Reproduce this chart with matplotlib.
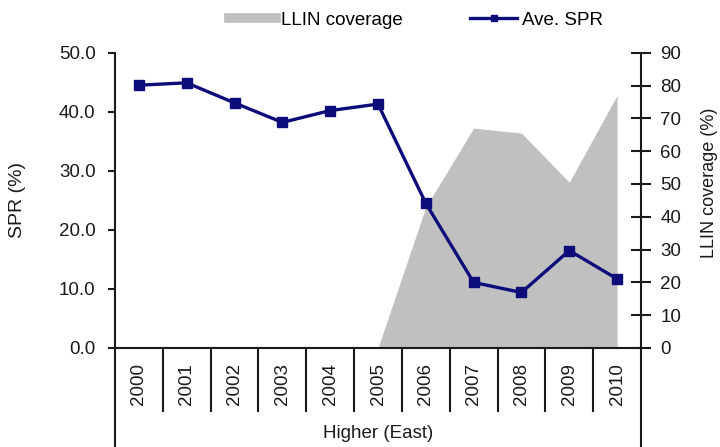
import numpy as np
import matplotlib
matplotlib.use("Agg")
import matplotlib.pyplot as plt
from matplotlib.lines import Line2D

plt.rcParams['font.family'] = ['Liberation Sans', 'DejaVu Sans']

# data
years = ['2000', '2001', '2002', '2003', '2004', '2005',
         '2006', '2007', '2008', '2009', '2010']
spr = [44.5, 44.9, 41.5, 38.2, 40.2, 41.3, 24.5, 11.1, 9.4, 16.5, 11.7]
llin = [np.nan, np.nan, np.nan, np.nan, np.nan, 0, 43, 67, 65.5, 50.5, 77]
group_label = 'Higher (East)'

x = np.arange(len(years))
line_col = '#0c0c7a'
area_col = '#c0c0c0'
spine_col = '#1a1a1a'

fig = plt.figure(figsize=(7.2, 4.47), dpi=100)
ax = fig.add_axes([115 / 720, 1 - 348 / 447, 526 / 720, 295.3 / 447])
ax2 = ax.twinx()

# area on the secondary axis, drawn under the SPR line
ax2.fill_between(x, llin, 0, color=area_col, linewidth=0)
ax2.set_ylim(0, 90)
ax2.set_yticks(np.arange(0, 91, 10))
ax.set_zorder(ax2.get_zorder() + 1)
ax.patch.set_visible(False)

ax.plot(x, spr, color=line_col, linewidth=2.4, marker='s', markersize=6.5,
        markerfacecolor=line_col, markeredgecolor=line_col)
ax.set_ylim(0, 50)
ax.set_yticks(np.arange(0, 51, 10))
ax.set_yticklabels(['%.1f' % v for v in np.arange(0, 51, 10)])
ax.set_xlim(-0.5, len(years) - 0.5)
ax.set_xticks(x)
ax.set_xticklabels(years, rotation=90)

for a in (ax, ax2):
    a.spines['top'].set_visible(False)
    for s in a.spines.values():
        s.set_linewidth(1.5)
        s.set_color(spine_col)
ax2.spines['left'].set_visible(False)
ax2.spines['bottom'].set_visible(False)
ax.spines['right'].set_visible(False)

ax.tick_params(axis='y', direction='out', length=5, width=1.5, pad=9,
               labelsize=13.5, colors=spine_col)
ax.tick_params(axis='x', length=0, pad=11, labelsize=13.5, colors=spine_col)
ax2.tick_params(axis='y', direction='inout', length=14, width=1.5, pad=7,
                labelsize=13.5, colors=spine_col)

# category separators and group border lines below the axis
for b in np.arange(0.5, len(years) - 0.5, 1):
    ax.plot([b, b], [0, -0.212], color=spine_col, linewidth=1.5,
            transform=ax.get_xaxis_transform(), clip_on=False)
for b in (-0.5, len(years) - 0.5):
    ax.plot([b, b], [0, -0.34], color=spine_col, linewidth=1.5,
            transform=ax.get_xaxis_transform(), clip_on=False)

ax.text(0.5, -0.288, group_label, transform=ax.transAxes, ha='center',
        va='center', fontsize=13.5, color=spine_col)

ax.set_ylabel('SPR (%)', fontsize=14, color=spine_col)
ax.yaxis.set_label_coords(-0.169, 0.5)
ax2.set_ylabel('LLIN coverage (%)', fontsize=13, color=spine_col,
               va='center', ha='center')
ax2.yaxis.set_label_coords(1.13, 0.559)

handles = [Line2D([], [], color=area_col, linewidth=7),
           Line2D([], [], color=line_col, linewidth=2.4, marker='s',
                  markersize=4)]
fig.legend(handles, ['LLIN coverage', 'Ave. SPR'], loc='center',
           bbox_to_anchor=(0.578, 0.955), ncol=2, frameon=False,
           fontsize=13.5, handlelength=2.5, handletextpad=0.25,
           columnspacing=3.6)

fig.savefig('out.png', dpi=100)
